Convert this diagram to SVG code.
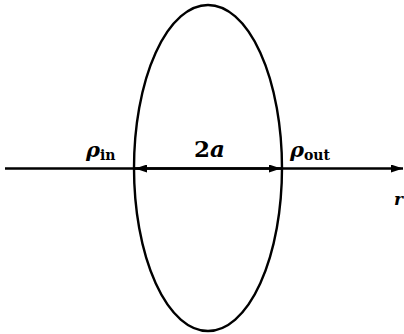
<svg xmlns="http://www.w3.org/2000/svg" width="404" height="334" viewBox="0 0 404 334">
<defs>
<marker id="ah" viewBox="0 0 12 8" refX="12" refY="4" markerWidth="12" markerHeight="8" markerUnits="userSpaceOnUse" orient="auto-start-reverse">
<path d="M0,0 L12,4 L0,8 Z" fill="#000"/>
</marker>
<style>
.ln{stroke:#000;stroke-width:2.4;fill:none}
.t{font-family:"DejaVu Serif","Liberation Serif",serif;fill:#000;font-weight:bold}
</style>
</defs>
<rect width="404" height="334" fill="#fff"/>
<g id="ellipse"><ellipse cx="208" cy="168" rx="74" ry="163" class="ln" stroke-width="3"/></g>
<g id="connectors">
<line x1="5" y1="168.5" x2="403" y2="168.5" class="ln" stroke-width="2" marker-end="url(#ah)"/>
<line x1="135" y1="168.5" x2="281" y2="168.5" class="ln" stroke-width="2" marker-start="url(#ah)" marker-end="url(#ah)"/>
</g>
<g id="labels">
<text class="t" x="86" y="157" font-size="21" font-style="italic">ρ<tspan font-size="14" font-style="normal" dy="3">in</tspan></text>
<text class="t" x="194" y="157" font-size="23">2<tspan font-style="italic">a</tspan></text>
<text class="t" x="290" y="157" font-size="21" font-style="italic">ρ<tspan font-size="14" font-style="normal" dy="3">out</tspan></text>
<text class="t" x="394" y="205" font-size="17" font-style="italic">r</text>
</g>
</svg>
